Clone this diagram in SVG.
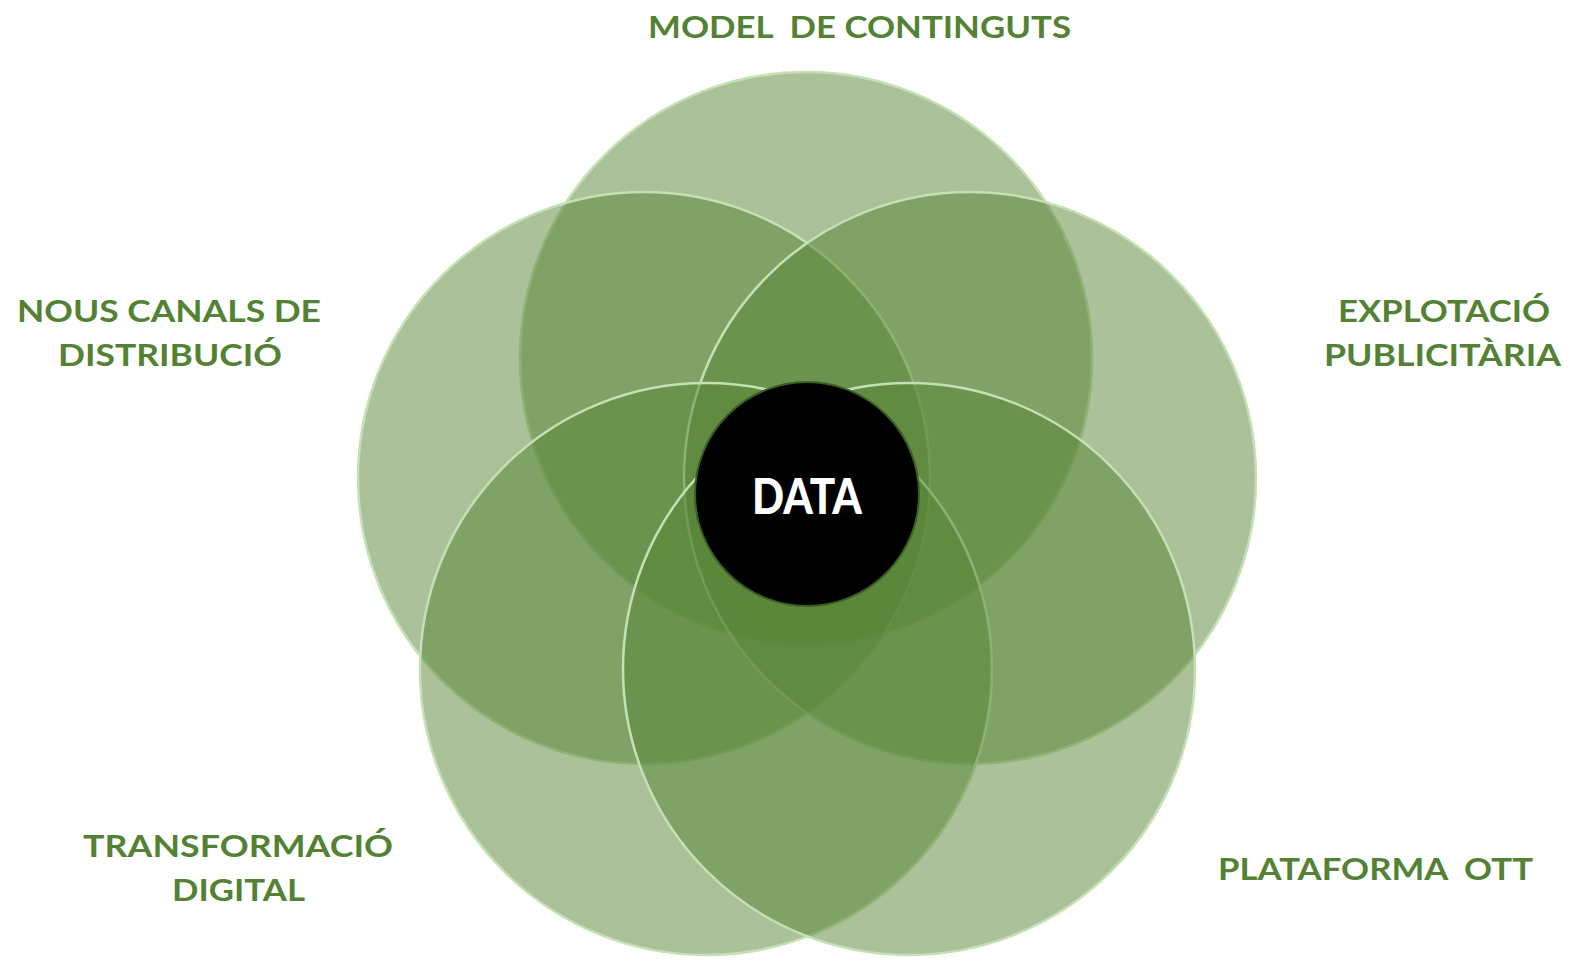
<svg xmlns="http://www.w3.org/2000/svg" width="1586" height="965" viewBox="0 0 1586 965">
<style>
.c{fill:#558334;fill-opacity:0.5;stroke:#C5E0B4;stroke-width:2.5}
.t{font-family:Lato,"Open Sans",sans-serif;font-weight:bold;font-size:30px;fill:#548235;text-anchor:middle}
.d{font-family:Lato,"Open Sans",sans-serif;font-weight:900;font-size:50px;fill:#FFFFFF;text-anchor:middle}
</style>
<rect width="1586" height="965" fill="#FFFFFF"/>
<g id="model"><circle class="c" cx="806" cy="358" r="286"/></g>
<g id="nous"><circle class="c" cx="644" cy="478" r="286"/></g>
<g id="explotacio"><circle class="c" cx="970" cy="478" r="286"/></g>
<g id="transformacio"><circle class="c" cx="706" cy="669" r="286"/></g>
<g id="plataforma"><circle class="c" cx="909" cy="669" r="286"/></g>
<g id="data">
<circle cx="807" cy="494" r="112" fill="#000000" stroke="#3B5E25" stroke-width="2"/>
<text class="d" x="807" y="514" textLength="110" lengthAdjust="spacingAndGlyphs">DATA</text>
</g>
<g id="connectors"></g>
<g id="labels">
<text class="t" x="859.5" y="38" textLength="423" lengthAdjust="spacingAndGlyphs">MODEL&#160; DE CONTINGUTS</text>
<text class="t" x="169" y="322" textLength="304" lengthAdjust="spacingAndGlyphs">NOUS CANALS DE</text>
<text class="t" x="170" y="366" textLength="224" lengthAdjust="spacingAndGlyphs">DISTRIBUCIÓ</text>
<text class="t" x="1444" y="322" textLength="212" lengthAdjust="spacingAndGlyphs">EXPLOTACIÓ</text>
<text class="t" x="1442.5" y="366" textLength="237" lengthAdjust="spacingAndGlyphs">PUBLICITÀRIA</text>
<text class="t" x="238" y="857" textLength="310" lengthAdjust="spacingAndGlyphs">TRANSFORMACIÓ</text>
<text class="t" x="238.5" y="901" textLength="133" lengthAdjust="spacingAndGlyphs">DIGITAL</text>
<text class="t" x="1375.5" y="880" textLength="315" lengthAdjust="spacingAndGlyphs">PLATAFORMA&#160; OTT</text>
</g>
</svg>
